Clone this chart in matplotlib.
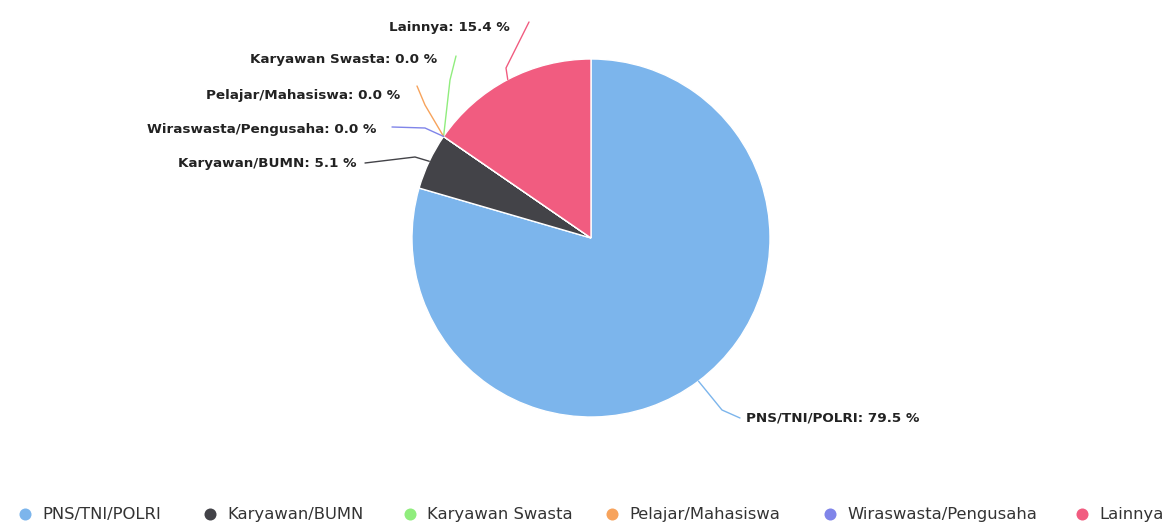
import numpy as np
import matplotlib
matplotlib.use("Agg")
import matplotlib.pyplot as plt

categories = ["PNS/TNI/POLRI", "Karyawan/BUMN", "Karyawan Swasta",
              "Pelajar/Mahasiswa", "Wiraswasta/Pengusaha", "Lainnya"]
values = [79.5, 5.1, 0.0, 0.0, 0.0, 15.4]
colors = ["#7cb5ec", "#434348", "#90ed7d", "#f7a35c", "#8085e9", "#f15c80"]

W, H = 1169, 532
fig = plt.figure(figsize=(W / 100, H / 100), dpi=100)
ax = fig.add_axes([0, 0, 1, 1])
ax.set_xlim(0, W)
ax.set_ylim(H, 0)
ax.set_aspect("equal")
ax.axis("off")

cx, cy, r = 591, 238, 179
ax.pie(values, colors=colors, center=(cx, cy), radius=r, startangle=-90,
       counterclock=True, wedgeprops=dict(edgecolor="white", linewidth=1))
ax.set_xlim(0, W)
ax.set_ylim(H, 0)

# label layout: (text x, text y, ha, elbow x, elbow y, line end x, line end y)
layout = {
    "PNS/TNI/POLRI": (746, 418, "left", 722, 410, 740, 418),
    "Karyawan/BUMN": (357, 164, "right", 415, 157, 365, 163),
    "Karyawan Swasta": (437, 60, "right", 450, 80, 456, 56),
    "Pelajar/Mahasiswa": (400, 96, "right", 425, 105, 417, 86),
    "Wiraswasta/Pengusaha": (376, 129, "right", 425, 128, 392, 127),
    "Lainnya": (510, 27, "right", 506, 68, 529, 22),
}

total = sum(values)
start = 0.0
for cat, val, col in zip(categories, values, colors):
    mid = start + val / 2
    start += val
    theta = np.deg2rad(-90 + 360 * mid / total)
    px = cx + r * np.cos(theta)
    py = cy + r * np.sin(theta)
    tx, ty, ha, ex, ey, lx, ly = layout[cat]
    ax.plot([px, ex, lx], [py, ey, ly], color=col, lw=1, solid_capstyle="round")
    ax.text(tx, ty, f"{cat}: {val:.1f} %", ha=ha, va="center",
            fontsize=9.7, fontweight="bold", color="#222222", family="DejaVu Sans")

# legend
legend_x = [25, 210, 410, 612, 830, 1082]
for lx, cat, col in zip(legend_x, categories, colors):
    ax.scatter([lx], [514], s=75, color=col, zorder=5, linewidths=0)
    ax.text(lx + 17, 515, cat, ha="left", va="center", fontsize=11.8,
            color="#333333", family="DejaVu Sans")

fig.savefig("out.png", dpi=100, facecolor="white")
